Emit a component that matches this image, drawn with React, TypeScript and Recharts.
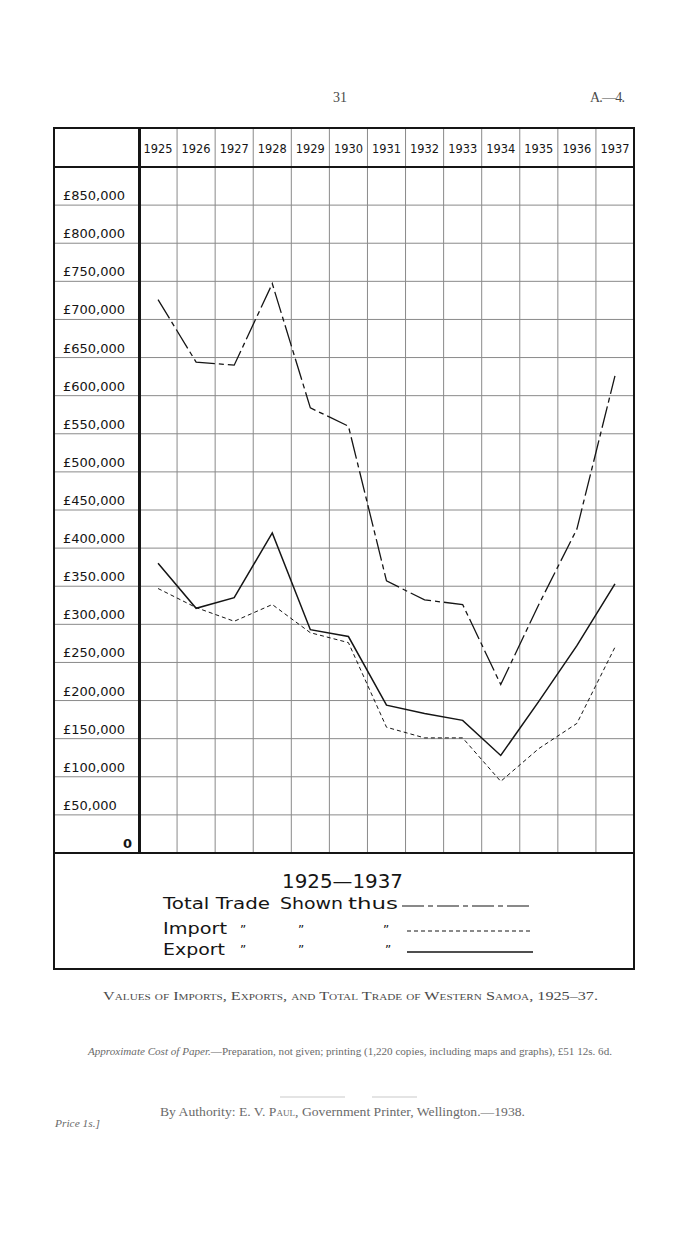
import React from 'react';
import { LineChart, Line, XAxis, YAxis, CartesianGrid, ReferenceLine } from 'recharts';

// values (pounds)
const years = ['1925', '1926', '1927', '1928', '1929', '1930', '1931', '1932', '1933', '1934', '1935', '1936', '1937'];
const totalValues = [726000, 644000, 640000, 747000, 584000, 560000, 357000, 332000, 326000, 221000, 326000, 425000, 626000];
const importValues = [347000, 322000, 304000, 326000, 289000, 276000, 165000, 151000, 151000, 94000, 137000, 170000, 270000];
const exportValues = [380000, 321000, 335000, 420000, 293000, 284000, 194000, 183000, 174000, 128000, 199000, 272000, 353000];

const yTicks = [0, 50000, 100000, 150000, 200000, 250000, 300000, 350000, 400000, 450000, 500000, 550000, 600000, 650000, 700000, 750000, 800000, 850000];
const yLabels = ['0', '£50,000', '£100,000', '£150,000', '£200,000', '£250,000', '£300,000', '£350.000', '£400,000', '£450,000', '£500,000', '£550,000', '£600,000', '£650,000', '£700,000', '£750,000', '£800,000', '£850,000'];

const data = years.map((year, i) => ({
  idx: i,
  year,
  total: totalValues[i],
  imp: importValues[i],
  exp: exportValues[i],
}));

// year ticks at column centres, half steps mark the column borders
const xTicks = years.flatMap((_, i) => [i - 0.5, i]).concat(years.length - 0.5);
const colBorders = years.slice(1).map((_, i) => i + 0.5);

const INK = '#151515';
const GRID = '#8a8a8a';
const PRINT = '#4a4a4a';
const LETTER = '"DejaVu Sans", sans-serif';
const SERIF = '"Liberation Serif", "DejaVu Serif", serif';

const TOTAL_DASH = '22 4 5 4';
const IMPORT_DASH = '4 3';

const YearTick = (props: any) => {
  const { x, y, payload } = props;
  const v = payload.value;
  if (Number.isInteger(v)) {
    return (
      <text x={x} y={y - 14} textAnchor="middle" fontFamily='"DejaVu Sans Condensed", "DejaVu Sans", sans-serif'
        fontStretch="condensed" fontSize={13} fill={INK} textLength={29} lengthAdjust="spacingAndGlyphs">
        {years[v]}
      </text>
    );
  }
  if (v <= -0.5 || v >= years.length - 0.5) return <g />;
  return <line x1={x} x2={x} y1={y - 40} y2={y} stroke={GRID} strokeWidth={1} />;
};

const MoneyTick = (props: any) => {
  const { x, y, payload } = props;
  const label = yLabels[yTicks.indexOf(payload.value)];
  if (payload.value === 0) {
    return (
      <text x={x + 79} y={y - 5} textAnchor="end" fontFamily={LETTER} fontSize={13} fontWeight="bold" fill={INK}>
        {label}
      </text>
    );
  }
  return (
    <text x={x + 10} y={y - 5} fontFamily={LETTER} fontSize={13} fill={INK}>
      {label}
    </text>
  );
};

const abs = (style: React.CSSProperties): React.CSSProperties => ({ position: 'absolute', ...style });

export default function App() {
  return (
    <div style={abs({ left: 0, top: 0, width: 700, height: 1236, background: '#fff', overflow: 'hidden' })}>
      <div style={abs({ left: 0, top: 0 })}>
        <LineChart width={700} height={1236} data={data} margin={{ top: 166, left: 138, right: 66, bottom: 383 }}>
          <CartesianGrid vertical={false} stroke={GRID} strokeWidth={1} />
          {colBorders.map((b) => (
            <ReferenceLine key={b} x={b} stroke={GRID} strokeWidth={1} ifOverflow="visible" />
          ))}
          <XAxis
            type="number"
            dataKey="idx"
            orientation="top"
            domain={[-0.5, years.length - 0.5]}
            ticks={xTicks}
            interval={0}
            height={1}
            tickSize={0}
            tickMargin={0}
            tickLine={false}
            axisLine={false}
            tick={<YearTick />}
            allowDataOverflow
          />
          <YAxis
            type="number"
            domain={[0, 900000]}
            ticks={yTicks}
            interval={0}
            width={1}
            tickSize={86}
            tickMargin={0}
            tickLine={{ stroke: GRID, strokeWidth: 1 }}
            axisLine={false}
            tick={<MoneyTick />}
          />
          <Line type="linear" dataKey="total" stroke={INK} strokeWidth={1.3} strokeDasharray={TOTAL_DASH} dot={false} isAnimationActive={false} />
          <Line type="linear" dataKey="imp" stroke={INK} strokeWidth={1} strokeDasharray={IMPORT_DASH} dot={false} isAnimationActive={false} />
          <Line type="linear" dataKey="exp" stroke={INK} strokeWidth={1.5} dot={false} isAnimationActive={false} />
        </LineChart>
      </div>

      {/* ruled frame of the graph */}
      <div style={abs({ left: 53, top: 127, width: 582, height: 843, border: `2px solid ${INK}`, boxSizing: 'border-box' })} />
      <div style={abs({ left: 53, top: 166, width: 582, height: 2, background: INK })} />
      <div style={abs({ left: 138, top: 127, width: 3, height: 727, background: INK })} />
      <div style={abs({ left: 53, top: 852, width: 582, height: 2, background: INK })} />

      <svg width={700} height={1236} style={abs({ left: 0, top: 0 })}>
        {/* page heading */}
        <text x={340} y={102} textAnchor="middle" fontFamily={SERIF} fontSize={14} fill={PRINT}>31</text>
        <text x={590} y={102} fontFamily={SERIF} fontSize={14} fill={PRINT} textLength={35}>A.—4.</text>

        {/* key */}
        <text x={282} y={888} fontFamily={LETTER} fontSize={19} fill={INK} textLength={121} lengthAdjust="spacingAndGlyphs">1925—1937</text>
        <text x={163} y={909} fontFamily={LETTER} fontSize={15} fill={INK} textLength={107} lengthAdjust="spacingAndGlyphs">Total Trade</text>
        <text x={280} y={909} fontFamily={LETTER} fontSize={15} fill={INK} textLength={63} lengthAdjust="spacingAndGlyphs">Shown</text>
        <text x={348} y={909} fontFamily={LETTER} fontSize={15} fill={INK} textLength={50} lengthAdjust="spacingAndGlyphs">thus</text>
        <line x1={402} x2={533} y1={906} y2={906} stroke={INK} strokeWidth={1.2} strokeDasharray={TOTAL_DASH} />

        <text x={163} y={934} fontFamily={LETTER} fontSize={15} fill={INK} textLength={64} lengthAdjust="spacingAndGlyphs">Import</text>
        {[240, 298, 383].map((x) => (
          <text key={x} x={x} y={934} fontFamily={LETTER} fontSize={12} fill={INK}>”</text>
        ))}
        <line x1={407} x2={533} y1={931} y2={931} stroke={INK} strokeWidth={1} strokeDasharray={IMPORT_DASH} />

        <text x={163} y={955} fontFamily={LETTER} fontSize={15} fill={INK} textLength={62} lengthAdjust="spacingAndGlyphs">Export</text>
        {[240, 298, 385].map((x) => (
          <text key={x} x={x} y={954} fontFamily={LETTER} fontSize={12} fill={INK}>”</text>
        ))}
        <line x1={407} x2={533} y1={952} y2={952} stroke={INK} strokeWidth={1.3} />

        {/* caption and imprint */}
        <text x={103} y={1000} fontFamily={SERIF} fontSize={13} fill={PRINT} style={{ fontVariant: 'small-caps' }}
          textLength={495} lengthAdjust="spacingAndGlyphs">
          Values of Imports, Exports, and Total Trade of Western Samoa, 1925–37.
        </text>
        <text x={88} y={1055} fontFamily={SERIF} fontSize={10} fill="#6a6a6a" textLength={524} lengthAdjust="spacingAndGlyphs">
          <tspan fontStyle="italic">Approximate Cost of Paper.</tspan>
          —Preparation, not given; printing (1,220 copies, including maps and graphs), £51 12s. 6d.
        </text>
        <line x1={280} x2={345} y1={1097} y2={1097} stroke="#bbb" strokeWidth={0.8} />
        <line x1={372} x2={417} y1={1097} y2={1097} stroke="#bbb" strokeWidth={0.8} />
        <text x={160} y={1116} fontFamily={SERIF} fontSize={12} fill="#6a6a6a" textLength={365} lengthAdjust="spacingAndGlyphs">
          By Authority: E. V. <tspan style={{ fontVariant: 'small-caps' }}>Paul</tspan>, Government Printer, Wellington.—1938.
        </text>
        <text x={55} y={1127} fontFamily={SERIF} fontSize={10} fontStyle="italic" fill="#6a6a6a" textLength={45} lengthAdjust="spacingAndGlyphs">
          Price 1s.]
        </text>
      </svg>
    </div>
  );
}
